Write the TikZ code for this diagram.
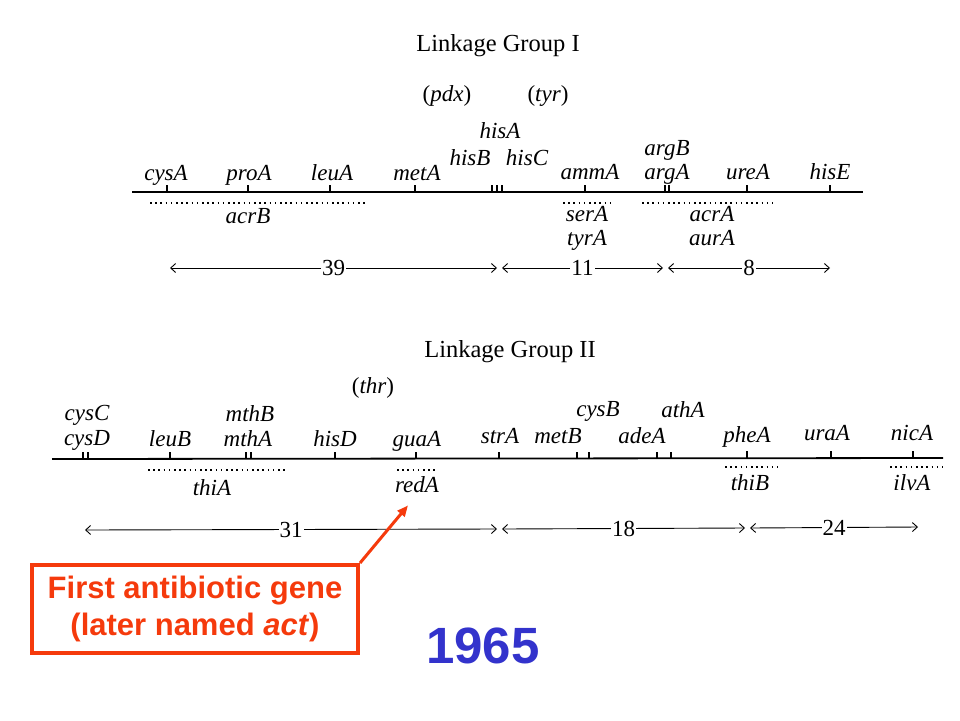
\documentclass[tikz,border=0pt]{standalone}
\usepackage{fontspec}
\setmainfont{Liberation Serif}
\newfontfamily\notefont{Liberation Sans}
\usetikzlibrary{arrows.meta,positioning,calc}
\definecolor{notered}{RGB}{245,58,12}
\definecolor{yearblue}{RGB}{51,51,204}
\newcommand{\genesize}{\fontsize{23}{26}\selectfont}
\newcommand{\titlesize}{\fontsize{24.5}{27}\selectfont}
\newcommand{\distsize}{\fontsize{23}{26}\selectfont}

\begin{document}
\begin{tikzpicture}[x=1pt,y=-1pt,
    gene/.style={font=\genesize\itshape, inner sep=0pt, anchor=base},
    paren/.style={font=\genesize, inner sep=0pt, anchor=base},
    grouptitle/.style={font=\titlesize, inner sep=0pt, anchor=base},
    mapline/.style={line width=1.8pt},
    tick/.style={line width=1.2pt},
    dots/.style={line width=1.6pt, dash pattern=on 1.6pt off 3.6pt},
    dist/.style={{Straight Barb[length=5pt,width=9pt]}-{Straight Barb[length=5pt,width=9pt]}, line width=0.9pt},
    distlabel/.style={font=\distsize, fill=white, inner sep=1pt, midway},
    note/.style={draw=notered, line width=4pt, text=notered, align=center,
      font=\notefont\bfseries\fontsize{31}{37}\selectfont,
      minimum width=326pt, minimum height=88pt, inner sep=0pt},
    notearrow/.style={-{Triangle[length=11pt,width=9pt]}, draw=notered, line width=3pt},
    year/.style={text=yearblue, font=\notefont\bfseries\fontsize{51}{51}\selectfont}]
  \useasboundingbox (0,0) rectangle (960,720);

  % Linkage Group I
  \node[grouptitle] (title1) at (498,51) {Linkage Group I};
  \node[paren] (pdx) at (447,101) {(\textit{pdx})};
  \node[paren] (tyr) at (548,101) {(\textit{tyr})};
  \draw[mapline] (132,192) -- (863,192);
  \draw[tick] (167,192) -- ++(0,-7) (248,192) -- ++(0,-7) (330,192) -- ++(0,-7)
    (415,192) -- ++(0,-7) (492,192) -- ++(0,-7) (497,192) -- ++(0,-7) (502,192) -- ++(0,-7)
    (585,192) -- ++(0,-7) (665,192) -- ++(0,-7) (669,192) -- ++(0,-7)
    (747,192) -- ++(0,-7) (830,192) -- ++(0,-7);

  % genes above
  \node[gene] (cysA) at (166,180) {cysA};
  \node[gene] (proA) at (249,180) {proA};
  \node[gene] (leuA) at (332,180) {leuA};
  \node[gene] (metA) at (417,180) {metA};
  \node[gene] (hisA) at (500,138) {hisA};
  \node[gene] (hisB) at (470,165) {hisB};
  \node[gene] (hisC) at (527,165) {hisC};
  \node[gene] (ammA) at (590,179) {ammA};
  \node[gene] (argB) at (667,155) {argB};
  \node[gene] (argA) at (667,179) {argA};
  \node[gene] (ureA) at (748,179) {ureA};
  \node[gene] (hisE) at (830,179) {hisE};

  % genes below
  \draw[dots] (150,203) -- (367,203);
  \draw[dots] (563,203) -- (610,203);
  \draw[dots] (642,203) -- (773,203);
  \node[gene] (acrB) at (248,223) {acrB};
  \node[gene] (serA) at (587,221) {serA};
  \node[gene] (tyrA) at (587,245) {tyrA};
  \node[gene] (acrA) at (712,221) {acrA};
  \node[gene] (aurA) at (712,245) {aurA};

  % distances
  \coordinate (d1a) at (170,268);
  \coordinate (d1b) at (497,268);
  \coordinate (d2a) at (502,268);
  \coordinate (d2b) at (663,268);
  \coordinate (d3a) at (668,268);
  \coordinate (d3b) at (830,268);
  \draw[dist] (d1a) -- (d1b) node[distlabel] {39};
  \draw[dist] (d2a) -- (d2b) node[distlabel] {11};
  \draw[dist] (d3a) -- (d3b) node[distlabel] {8};

  % Linkage Group II
  \node[grouptitle] (title2) at (510,357) {Linkage Group II};
  \node[paren] (thr) at (373,393) {(\textit{thr})};
  \draw[mapline] (52,459) -- (943,458);
  \draw[tick] (83,459) -- ++(0,-7) (88,459) -- ++(0,-7) (170,459) -- ++(0,-7)
    (246,459) -- ++(0,-7) (251,459) -- ++(0,-7) (335,459) -- ++(0,-7)
    (416,459) -- ++(0,-7) (499,459) -- ++(0,-7) (577,459) -- ++(0,-7)
    (589,459) -- ++(0,-7) (657,459) -- ++(0,-7) (671,459) -- ++(0,-7)
    (747,458) -- ++(0,-7) (831,458) -- ++(0,-7) (913,458) -- ++(0,-7);

  % genes above
  \node[gene] (cysC) at (87,420) {cysC};
  \node[gene] (cysD) at (87,445) {cysD};
  \node[gene] (leuB) at (170,446) {leuB};
  \node[gene] (mthB) at (250,421) {mthB};
  \node[gene] (mthA) at (248,446) {mthA};
  \node[gene] (hisD) at (335,446) {hisD};
  \node[gene] (guaA) at (417,446) {guaA};
  \node[gene] (strA) at (500,443) {strA};
  \node[gene] (metB) at (558,443) {metB};
  \node[gene] (cysB) at (598,416) {cysB};
  \node[gene] (adeA) at (642,443) {adeA};
  \node[gene] (athA) at (683,417) {athA};
  \node[gene] (pheA) at (747,442) {pheA};
  \node[gene] (uraA) at (827,440) {uraA};
  \node[gene] (nicA) at (912,440) {nicA};

  % genes below
  \draw[dots] (148,470) -- (287,470);
  \draw[dots] (397,470) -- (437,470);
  \draw[dots] (725,467) -- (778,467);
  \draw[dots] (890,467) -- (943,467);
  \node[gene] (thiA) at (212,495) {thiA};
  \node[gene] (redA) at (417,492) {redA};
  \node[gene] (thiB) at (750,490) {thiB};
  \node[gene] (ilvA) at (912,490) {ilvA};

  % distances
  \coordinate (d4a) at (85,530);
  \coordinate (d4b) at (497,529);
  \coordinate (d5a) at (502,529);
  \coordinate (d5b) at (745,528);
  \coordinate (d6a) at (750,528);
  \coordinate (d6b) at (918,527);
  \draw[dist] (d4a) -- (d4b) node[distlabel] {31};
  \draw[dist] (d5a) -- (d5b) node[distlabel] {18};
  \draw[dist] (d6a) -- (d6b) node[distlabel] {24};

  % Note
  \node[note] (note) at (195,609) {First antibiotic gene\\(later named \textit{act})};
  \draw[notearrow] (note.north east) -- ([xshift=-9pt,yshift=-13pt]redA.south);
  \node[year] (year) at (483,646) {1965};
\end{tikzpicture}
\end{document}
